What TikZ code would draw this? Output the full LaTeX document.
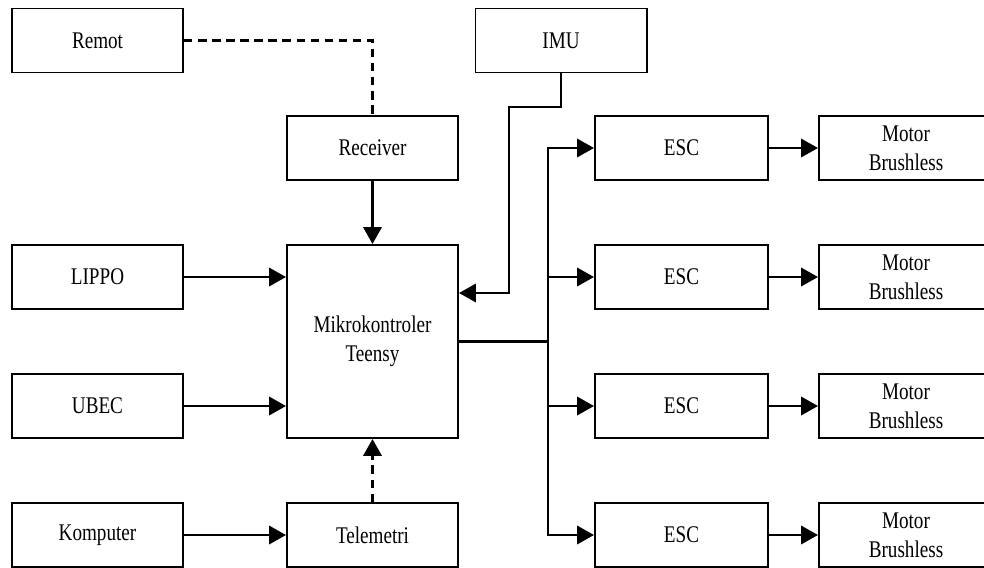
\documentclass[tikz,border=0pt]{standalone}
\usepackage{fontspec}
\setmainfont[FakeStretch=0.8]{Liberation Serif}
\usetikzlibrary{arrows.meta}
\begin{document}
\begin{tikzpicture}[x=0.025cm,y=-0.025cm,
kotak/.style={draw,line width=1.4pt,minimum width=4.275cm,minimum height=1.6cm,align=center,inner sep=0pt,font=\fontsize{17}{20.5}\selectfont},
panah/.style={line width=1.8pt,-{Triangle[length=12pt,width=13pt]}},
putus/.style={line width=1.8pt,dash pattern=on 6pt off 4pt}]
\useasboundingbox (0,0) rectangle (984,567);
\node[kotak] (remot) at (97.5,40.5) {Remot};
\node[kotak] (imu) at (561,40.5) {IMU};
\node[kotak] (receiver) at (372.5,148) {Receiver};
\node[kotak] (lippo) at (97.5,277) {LIPPO};
\node[kotak] (ubec) at (97.5,406) {UBEC};
\node[kotak] (komputer) at (97.5,535) {Komputer};
\node[kotak] (telemetri) at (372.5,535) {Telemetri};
\node[kotak,minimum height=4.825cm] (mcu) at (372.5,341.5) {Mikrokontroler\\Teensy};
\foreach \i/\y in {1/148,2/277,3/406,4/535}{
\node[kotak,minimum width=4.325cm] (esc\i) at (681.5,\y) {ESC};
\node[kotak,minimum width=4.35cm] (motor\i) at (906,\y) {Motor\\Brushless};
\draw[panah] (esc\i) -- (motor\i);
}
\draw[putus] (remot.east) -| (receiver.north);
\draw[panah] (receiver.south) -- (mcu.north);
\coordinate (imujog) at (509,107);
\coordinate (imuin) at (458,293);
\draw[panah] (imu.south) |- (imujog) |- (mcu.east |- imuin);
\draw[panah] (lippo.east) -- (lippo.east -| mcu.west);
\draw[panah] (ubec.east) -- (ubec.east -| mcu.west);
\draw[panah] (komputer) -- (telemetri);
\draw[panah,putus] (telemetri.north) -- (mcu.south);
\coordinate (bus) at (548,341.5);
\draw[line width=1.8pt] (mcu.east) -- (bus);
\foreach \i in {1,...,4}
\draw[panah] (bus) |- (esc\i.west);
\end{tikzpicture}
\end{document}
